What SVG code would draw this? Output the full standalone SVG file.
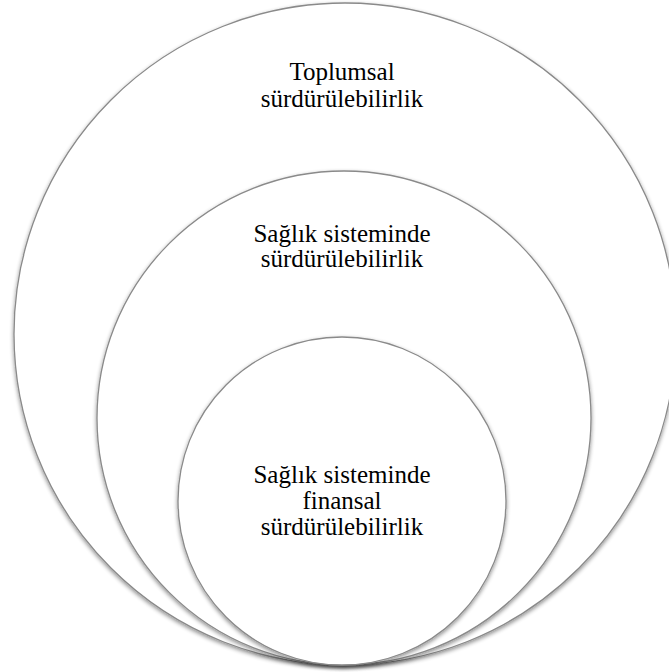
<svg xmlns="http://www.w3.org/2000/svg" width="669" height="672" viewBox="0 0 669 672">
<defs>
<filter id="sh" x="-10%" y="-10%" width="120%" height="120%">
<feGaussianBlur in="SourceAlpha" stdDeviation="2"/>
<feOffset dx="0" dy="2" result="b"/>
<feComponentTransfer><feFuncA type="linear" slope="0.45"/></feComponentTransfer>
<feMerge><feMergeNode/><feMergeNode in="SourceGraphic"/></feMerge>
</filter>
</defs>
<style>
.c{fill:#ffffff;stroke:#8a8a8a;stroke-width:1.3;filter:url(#sh)}
.t{font-family:"Liberation Serif","Times New Roman",serif;font-size:25px;fill:#000;text-anchor:middle}
</style>
<rect width="669" height="672" fill="#fff"/>
<g id="outer">
<circle class="c" cx="345" cy="334" r="331"/>
<text class="t" x="342" y="80">Toplumsal</text>
<text class="t" x="342" y="107">sürdürülebilirlik</text>
</g>
<g id="middle">
<circle class="c" cx="344" cy="418" r="247"/>
<text class="t" x="342" y="242">Sağlık sisteminde</text>
<text class="t" x="342" y="267">sürdürülebilirlik</text>
</g>
<g id="inner">
<circle class="c" cx="342" cy="501" r="164"/>
<text class="t" x="342" y="483">Sağlık sisteminde</text>
<text class="t" x="342" y="509">finansal</text>
<text class="t" x="342" y="535">sürdürülebilirlik</text>
</g>
<g id="connectors"></g>
</svg>
